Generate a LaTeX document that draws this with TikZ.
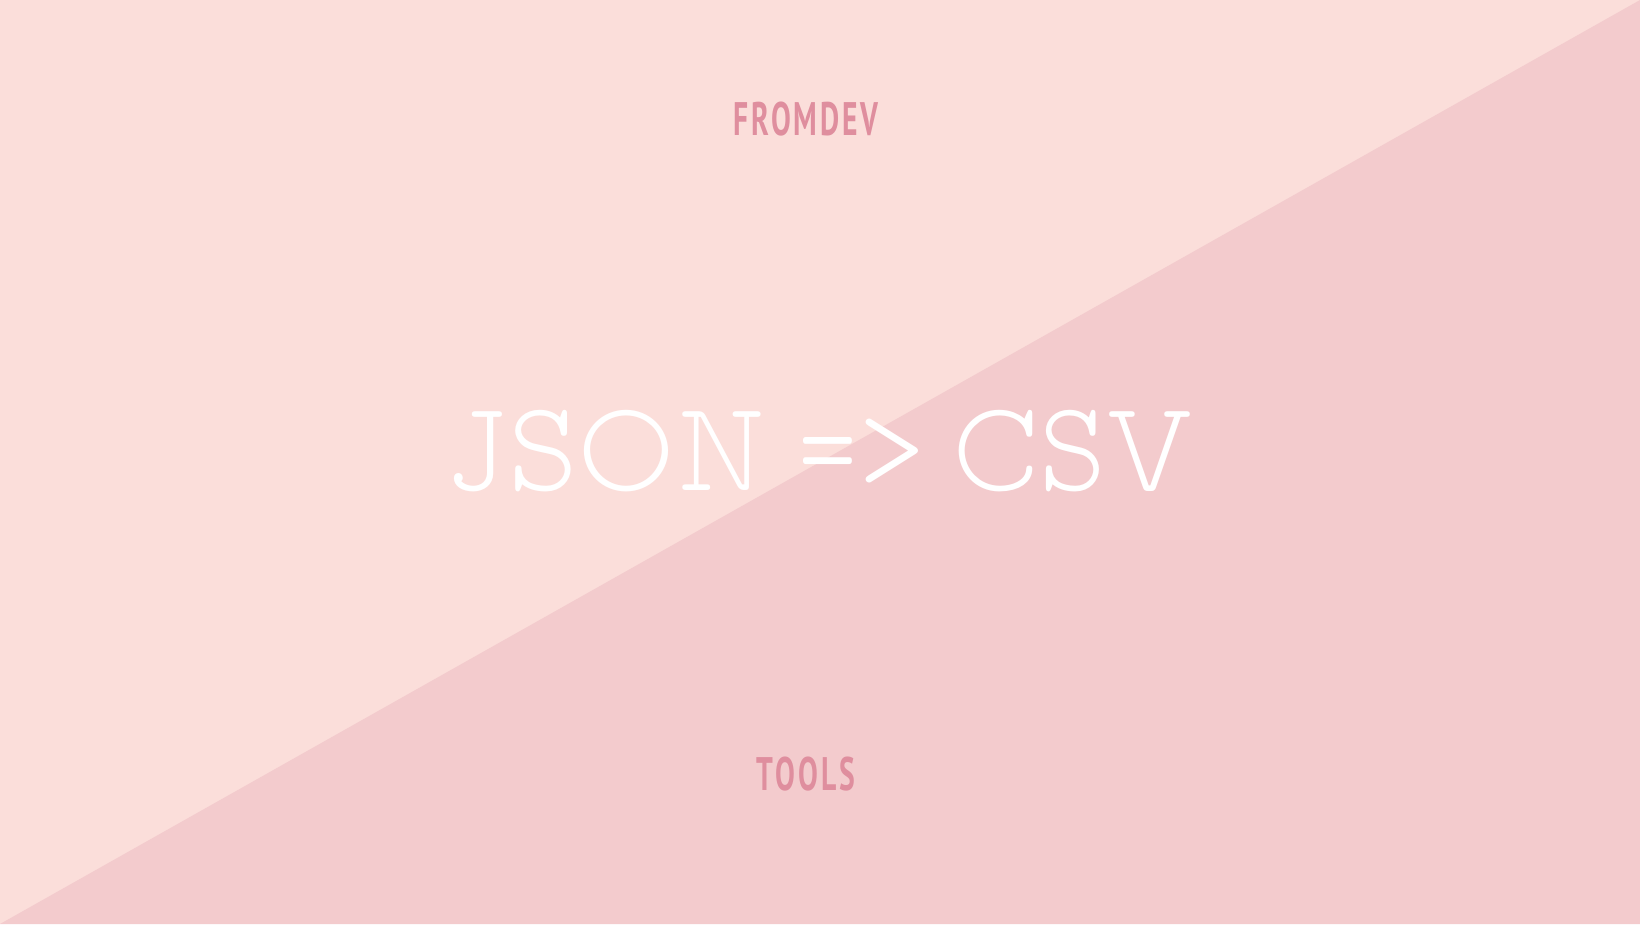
\documentclass[tikz,border=0pt]{standalone}
\usepackage{fontspec}
\newfontfamily\titlefont{Latin Modern Mono Prop Light}
\newfontfamily\labelfont[LetterSpace=10]{PT Sans Bold}
\definecolor{bgA}{HTML}{FBDEDA}
\definecolor{bgB}{HTML}{F3CBCD}
\definecolor{labelc}{HTML}{DF8E9E}
\tikzset{
  titletext/.style={text=white, anchor=base, inner sep=0pt, font=\titlefont\fontsize{129}{129}\selectfont},
  labeltext/.style={text=labelc, anchor=base, inner sep=0pt, xscale=0.63, font=\labelfont\fontsize{47}{47}\selectfont}
}
\begin{document}
\begin{tikzpicture}[x=1pt,y=-1pt]
\useasboundingbox (0,0) rectangle (1640,924);
\fill[bgA] (0,0) rectangle (1640,924);
\fill[bgB] (1640,0) -- (1640,924) -- (0,924) -- cycle;
\node[titletext, xscale=0.93] (json) at (606,490) {JSON};
\node[titletext, xscale=0.54] (eq) at (828,490) {=};
\node[titletext] (gt) at (892,490) {>};
\node[titletext, xscale=0.89] (csv) at (1073,490) {CSV};
\node[labeltext] (brand) at (806,135) {FROMDEV};
\node[labeltext] (tools) at (806,790) {TOOLS};
\end{tikzpicture}
\end{document}
